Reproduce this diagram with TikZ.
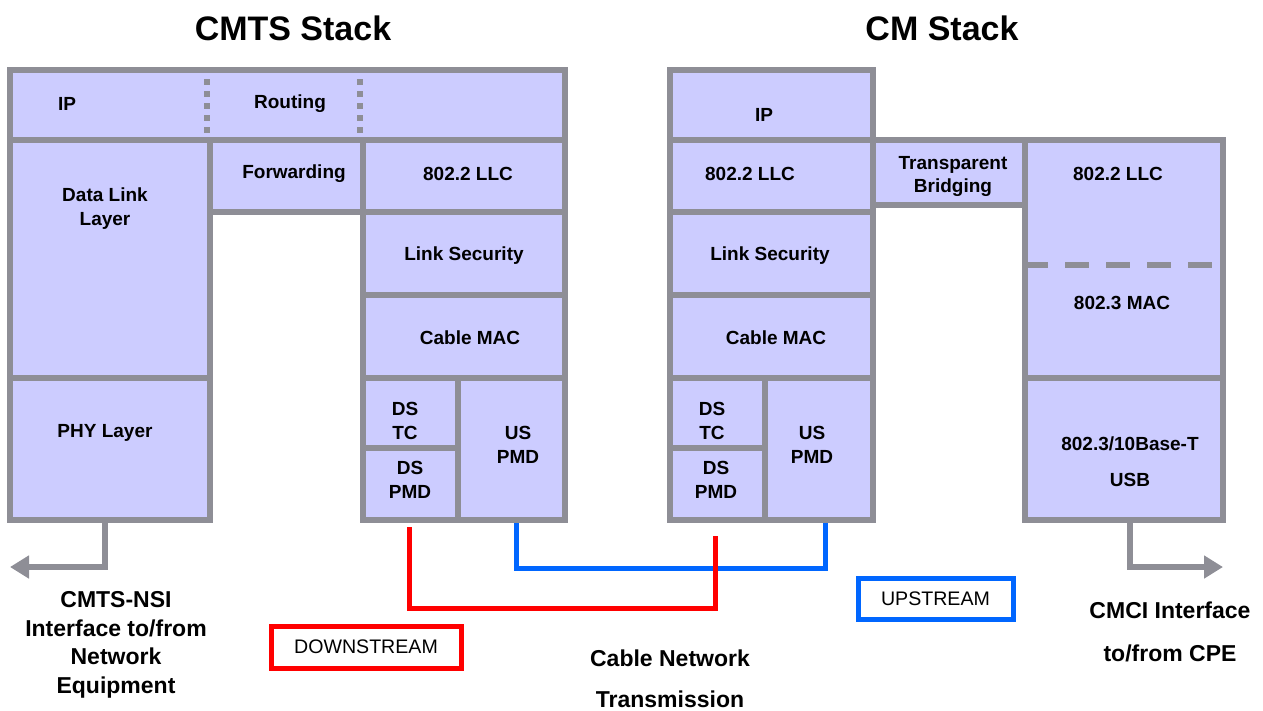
\documentclass[tikz,border=0pt]{standalone}
\usepackage{fontspec}
\setmainfont{Liberation Sans}
\usetikzlibrary{fit,arrows.meta}

\definecolor{stackfill}{RGB}{204,204,255}
\definecolor{stackline}{RGB}{142,142,150}
\definecolor{dsred}{RGB}{255,0,0}
\definecolor{usblue}{RGB}{0,102,255}

\tikzset{
  layer/.style={draw=stackline, fill=stackfill, line width=6pt, inner sep=0pt},
  lbl/.style={font=\fontsize{19}{24}\selectfont\bfseries, align=center, inner sep=0pt, yshift=-2pt},
  stacktitle/.style={font=\fontsize{34}{40}\selectfont\bfseries, inner sep=0pt},
  note/.style={font=\fontsize{23}{28.5}\selectfont\bfseries, align=center, inner sep=0pt},
  tag/.style={draw=#1, line width=5pt, font=\fontsize{19.6}{22}\selectfont, inner sep=0pt},
  divider/.style={draw=stackline, line width=6pt, dash pattern=on 6pt off 6pt},
  splitline/.style={draw=stackline, line width=6pt, dash pattern=on 24pt off 17pt},
  feed/.style={draw=stackline, line width=6pt, -{Triangle[length=19pt,width=22pt]}},
  downlink/.style={draw=dsred, line width=5pt},
  uplink/.style={draw=usblue, line width=5pt}
}

% box from its two corners
\newcommand{\layerbox}[5]{%
  \coordinate (#1-a) at (#2,#3);
  \coordinate (#1-b) at (#4,#5);
  \node[layer, fit=(#1-a)(#1-b)] (#1) {};}

\begin{document}
\begin{tikzpicture}[x=1pt, y=-1pt]
\useasboundingbox (0,0) rectangle (1263,710);

% CMTS stack
\layerbox{cmts-ip}{10}{70}{565}{140}
\layerbox{cmts-dll}{10}{140}{210}{378}
\layerbox{cmts-phy}{10}{378}{210}{520}
\layerbox{cmts-fwd}{210}{140}{363}{212}
\layerbox{cmts-llc}{363}{140}{565}{212}
\layerbox{cmts-sec}{363}{212}{565}{295}
\layerbox{cmts-mac}{363}{295}{565}{378}
\layerbox{cmts-dstc}{363}{378}{458}{448}
\layerbox{cmts-dspmd}{363}{448}{458}{520}
\layerbox{cmts-uspmd}{458}{378}{565}{520}
\draw[divider] (cmts-fwd.west |- cmts-ip.north) -- (cmts-fwd.west |- cmts-ip.south);
\draw[divider] (cmts-llc.west |- cmts-ip.north) -- (cmts-llc.west |- cmts-ip.south);

% CM stack
\layerbox{cm-ip}{670}{70}{873}{140}
\layerbox{cm-llc}{670}{140}{873}{212}
\layerbox{cm-sec}{670}{212}{873}{295}
\layerbox{cm-mac}{670}{295}{873}{378}
\layerbox{cm-dstc}{670}{378}{765}{448}
\layerbox{cm-dspmd}{670}{448}{765}{520}
\layerbox{cm-uspmd}{765}{378}{873}{520}
\layerbox{cm-bridge}{873}{140}{1025}{205}
\layerbox{cm-enet}{1025}{140}{1223}{378}
\layerbox{cm-usb}{1025}{378}{1223}{520}
\coordinate (split) at (0,265);
\draw[splitline] ([xshift=2pt]cm-enet.west |- split) -- ([xshift=-8pt]cm-enet.east |- split);

\node[stacktitle] (cmts-title) at (293,28) {CMTS Stack};
\node[stacktitle] (cm-title) at (942,28) {CM Stack};

\node[lbl] (t-cmts-ip) at (67,102) {IP};
\node[lbl] (t-routing) at (290,102) {Routing};
\node[lbl] (t-dll) at (105,207) {Data Link\\Layer};
\node[lbl] (t-phy) at (105,431) {PHY Layer};
\node[lbl] (t-fwd) at (294,172) {Forwarding};
\node[lbl] (t-cmts-llc) at (468,172) {802.2 LLC};
\node[lbl] (t-cmts-sec) at (464,254) {Link Security};
\node[lbl] (t-cmts-mac) at (470,336) {Cable MAC};
\node[lbl] (t-cmts-dstc) at (405,419) {DS\\TC};
\node[lbl] (t-cmts-dspmd) at (410,478) {DS\\PMD};
\node[lbl] (t-cmts-uspmd) at (518,443) {US\\PMD};

\node[lbl] (t-cm-ip) at (764,113) {IP};
\node[lbl] (t-cm-llc) at (750,172) {802.2 LLC};
\node[lbl] (t-cm-sec) at (770,254) {Link Security};
\node[lbl] (t-cm-mac) at (776,336) {Cable MAC};
\node[lbl] (t-cm-dstc) at (712,419) {DS\\TC};
\node[lbl] (t-cm-dspmd) at (716,478) {DS\\PMD};
\node[lbl] (t-cm-uspmd) at (812,443) {US\\PMD};
\node[lbl] (t-bridge) at (953,174) {Transparent\\[-1pt]Bridging};
\node[lbl] (t-enet-llc) at (1118,172) {802.2 LLC};
\node[lbl] (t-enet-mac) at (1122,301) {802.3 MAC};
\node[lbl] (t-usb) at (1130,460) {802.3/10Base-T\\[12pt]USB};

% links
\coordinate (nsi-end) at (10,567);
\coordinate (cmci-end) at (1223,567);
\draw[feed] ([xshift=-5pt]cmts-phy.south) |- (nsi-end);
\draw[feed] ([xshift=6pt]cm-usb.south) |- (cmci-end);
\draw[uplink] ([xshift=5pt]cmts-uspmd.south) |- ([xshift=6pt,yshift=-45pt]cm-uspmd.south) -- ([xshift=6pt]cm-uspmd.south);
\draw[downlink] ([xshift=-1pt,yshift=-4pt]cmts-dspmd.south) |- ([xshift=-2pt,yshift=-85pt]cm-dspmd.south) -- ([xshift=-2pt,yshift=-13pt]cm-dspmd.south);

\node[tag=dsred, minimum width=190pt, minimum height=42pt] (downstream) at (366,647) {DOWNSTREAM};
\node[tag=usblue, minimum width=155pt, minimum height=41pt] (upstream) at (935.5,598.5) {UPSTREAM};

\node[note] (nsi) at (116,645) {CMTS-NSI\\Interface to/from\\Network\\Equipment};
\node[note] (cable) at (670,679) {Cable Network\\[12pt]Transmission};
\node[note] (cmci) at (1170,632) {CMCI Interface\\[14pt]to/from CPE};
\end{tikzpicture}
\end{document}
